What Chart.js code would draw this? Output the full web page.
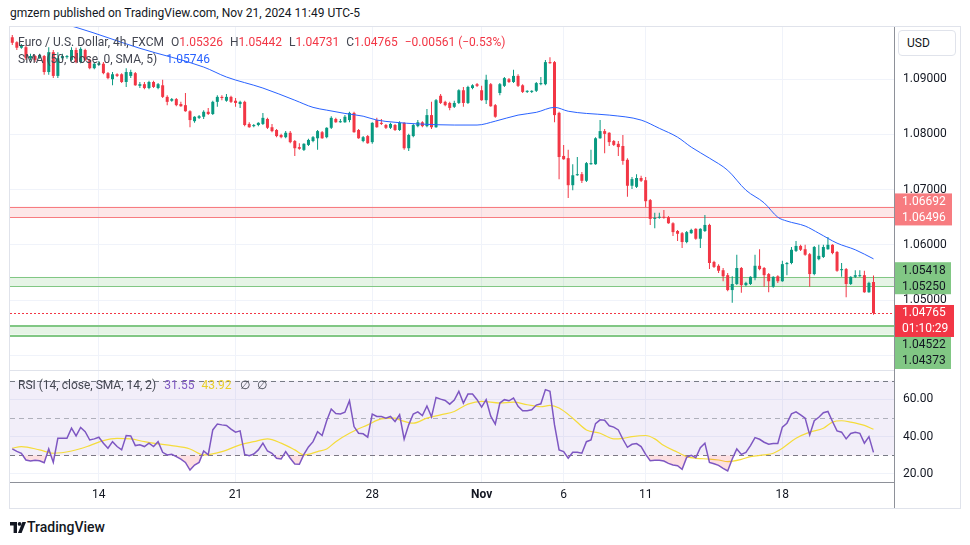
<!DOCTYPE html>
<html>
<head>
<title>EUR/USD 4h</title>
<style>
  body { margin:0; width:970px; height:545px; overflow:hidden; position:relative; background:#fff;
         font-family: Roboto, 'Noto Sans', sans-serif; color:#131722; }
  .abs { position:absolute; white-space:nowrap; }
  #pub { left:10px; top:5px; font-size:12px; line-height:16px; }
  #frame { left:9px; top:26px; width:952px; height:483px; border:1px solid #e0e3eb; box-sizing:border-box; }
  canvas { position:absolute; left:0; }
  .leg { font-size:12px; line-height:16px; color:#434651; }
  .dn { color:#f23645; }
  .gap { margin-left:7px; }
  #usd { left:898px; top:30px; width:58px; height:26px; border:1px solid #e0e3eb; border-radius:4px;
         box-sizing:border-box; font-size:12px; line-height:24px; padding-left:8px; background:#fff; }
  #foot { left:27px; top:518px; font-size:14px; font-weight:500; line-height:18px; }
</style>
</head>
<body>
<div id="pub" class="abs">gmzern published on TradingView.com, Nov 21, 2024 11:49 UTC-5</div>
<div id="frame" class="abs"></div>
<canvas id="priceChart" width="970" height="343" style="top:27px"></canvas>
<canvas id="rsiChart" width="970" height="138" style="top:370px"></canvas>

<div class="abs" style="left:10px;top:370px;width:884px;height:1px;background:#e0e3eb"></div>
<div class="abs" style="left:10px;top:482px;width:884px;height:1px;background:#8e9199"></div>
<div class="abs" style="left:894px;top:27px;width:1px;height:481px;background:#8e9199"></div>

<div id="leg1" class="abs leg" style="left:18px;top:34px"></div>
<div id="leg2" class="abs leg" style="left:18px;top:51px"></div>
<div id="leg3" class="abs leg" style="left:18px;top:377px"></div>
<div id="usd" class="abs">USD</div>

<svg class="abs" style="left:10px;top:522px" width="16" height="11" viewBox="0 0 16 11">
  <path d="M0 0H7V11H3.6V3.4H0Z" fill="#131722"/>
  <circle cx="9.6" cy="1.9" r="1.9" fill="#131722"/>
  <path d="M12.4 0H16L11.6 11H8Z" fill="#131722"/>
</svg>
<div id="foot" class="abs">TradingView</div>

<script src="https://cdn.jsdelivr.net/npm/chart.js"></script>
<script>
// 4h bars, Oct 10 -> Nov 21 2024 (EUR/USD, FXCM)
const open = [
1.0976,1.0967,1.0957,1.0958,1.0938,1.0942,1.0938,1.0942,1.0913,1.0949,
1.0906,1.0938,1.0940,1.0935,1.0953,1.0931,1.0953,1.0935,1.0920,1.0926,
1.0928,1.0911,1.0900,1.0909,1.0909,1.0895,1.0906,1.0911,1.0888,1.0891,
1.0884,1.0895,1.0884,1.0889,1.0868,1.0861,1.0864,1.0855,1.0853,1.0842,
1.0824,1.0830,1.0832,1.0841,1.0837,1.0859,1.0868,1.0861,1.0868,1.0861,
1.0855,1.0859,1.0819,1.0815,1.0817,1.0819,1.0828,1.0813,1.0808,1.0799,
1.0795,1.0803,1.0788,1.0777,1.0772,1.0781,1.0788,1.0793,1.0804,1.0795,
1.0812,1.0828,1.0822,1.0822,1.0826,1.0839,1.0808,1.0788,1.0797,1.0786,
1.0826,1.0821,1.0817,1.0812,1.0817,1.0808,1.0821,1.0775,1.0797,1.0815,
1.0822,1.0815,1.0835,1.0813,1.0870,1.0859,1.0857,1.0850,1.0857,1.0880,
1.0857,1.0884,1.0891,1.0880,1.0862,1.0891,1.0853,1.0875,1.0888,1.0900,
1.0895,1.0906,1.0889,1.0877,1.0877,1.0879,1.0891,1.0891,1.0931,1.0931,
1.0839,1.0761,1.0757,1.0708,1.0726,1.0728,1.0716,1.0746,1.0746,1.0793,
1.0806,1.0803,1.0788,1.0783,1.0779,1.0754,1.0707,1.0705,1.0721,1.0717,
1.0681,1.0647,1.0649,1.0650,1.0650,1.0639,1.0625,1.0621,1.0605,1.0621,
1.0629,1.0611,1.0625,1.0636,1.0569,1.0562,1.0554,1.0545,1.0518,1.0529,
1.0558,1.0527,1.0529,1.0540,1.0562,1.0558,1.0547,1.0524,1.0543,1.0534,
1.0565,1.0567,1.0589,1.0598,1.0592,1.0583,1.0547,1.0574,1.0578,1.0592,
1.0600,1.0587,1.0554,1.0556,1.0529,1.0542,1.0543,1.0545,1.0514,1.05326];
const high = [
1.0980,1.0969,1.0964,1.0962,1.0946,1.0944,1.0946,1.0944,1.0958,1.0953,
1.0949,1.0946,1.0944,1.0958,1.0957,1.0958,1.0955,1.0937,1.0931,1.0933,
1.0931,1.0913,1.0913,1.0911,1.0911,1.0920,1.0917,1.0913,1.0895,1.0895,
1.0897,1.0897,1.0893,1.0899,1.0871,1.0866,1.0866,1.0859,1.0875,1.0844,
1.0833,1.0835,1.0844,1.0848,1.0861,1.0871,1.0871,1.0873,1.0870,1.0866,
1.0861,1.0861,1.0822,1.0819,1.0822,1.0839,1.0830,1.0819,1.0810,1.0801,
1.0806,1.0806,1.0790,1.0784,1.0784,1.0792,1.0797,1.0808,1.0806,1.0813,
1.0833,1.0830,1.0828,1.0835,1.0841,1.0841,1.0810,1.0797,1.0799,1.0822,
1.0830,1.0828,1.0819,1.0821,1.0819,1.0824,1.0822,1.0801,1.0819,1.0826,
1.0824,1.0846,1.0859,1.0864,1.0873,1.0861,1.0859,1.0861,1.0882,1.0886,
1.0888,1.0891,1.0893,1.0888,1.0908,1.0893,1.0855,1.0893,1.0904,1.0902,
1.0917,1.0909,1.0891,1.0880,1.0880,1.0895,1.0904,1.0935,1.0940,1.0933,
1.0841,1.0781,1.0772,1.0746,1.0759,1.0732,1.0750,1.0772,1.0795,1.0826,
1.0810,1.0804,1.0790,1.0788,1.0799,1.0757,1.0723,1.0728,1.0725,1.0723,
1.0683,1.0658,1.0658,1.0663,1.0652,1.0641,1.0627,1.0623,1.0625,1.0629,
1.0630,1.0630,1.0654,1.0638,1.0571,1.0565,1.0558,1.0549,1.0543,1.0582,
1.0560,1.0533,1.0543,1.0582,1.0592,1.0560,1.0549,1.0543,1.0545,1.0571,
1.0569,1.0596,1.0607,1.0600,1.0600,1.0585,1.0598,1.0600,1.0600,1.0614,
1.0601,1.0589,1.0567,1.0558,1.0543,1.0554,1.0554,1.0553,1.0533,1.05442];
const low = [
1.0962,1.0953,1.0955,1.0935,1.0935,1.0931,1.0937,1.0908,1.0908,1.0902,
1.0902,1.0935,1.0937,1.0933,1.0929,1.0929,1.0933,1.0918,1.0918,1.0924,
1.0909,1.0900,1.0889,1.0904,1.0893,1.0886,1.0902,1.0888,1.0884,1.0882,
1.0882,1.0884,1.0882,1.0866,1.0853,1.0859,1.0851,1.0850,1.0841,1.0813,
1.0821,1.0828,1.0828,1.0835,1.0835,1.0850,1.0862,1.0859,1.0857,1.0850,
1.0848,1.0815,1.0812,1.0813,1.0815,1.0817,1.0810,1.0804,1.0795,1.0793,
1.0793,1.0784,1.0761,1.0772,1.0770,1.0779,1.0786,1.0772,1.0792,1.0793,
1.0810,1.0821,1.0821,1.0821,1.0822,1.0803,1.0792,1.0786,1.0783,1.0783,
1.0812,1.0817,1.0810,1.0810,1.0806,1.0806,1.0772,1.0770,1.0795,1.0813,
1.0813,1.0813,1.0810,1.0812,1.0855,1.0851,1.0844,1.0848,1.0855,1.0850,
1.0855,1.0882,1.0886,1.0861,1.0855,1.0850,1.0830,1.0871,1.0886,1.0893,
1.0893,1.0886,1.0875,1.0875,1.0875,1.0877,1.0889,1.0889,1.0928,1.0822,
1.0719,1.0754,1.0685,1.0699,1.0725,1.0712,1.0714,1.0745,1.0745,1.0792,
1.0766,1.0779,1.0779,1.0761,1.0745,1.0687,1.0701,1.0703,1.0714,1.0668,
1.0636,1.0630,1.0647,1.0647,1.0638,1.0616,1.0607,1.0594,1.0603,1.0620,
1.0609,1.0594,1.0623,1.0556,1.0558,1.0549,1.0534,1.0516,1.0495,1.0527,
1.0513,1.0525,1.0527,1.0536,1.0554,1.0524,1.0514,1.0522,1.0531,1.0533,
1.0545,1.0565,1.0587,1.0589,1.0580,1.0524,1.0545,1.0572,1.0576,1.0591,
1.0583,1.0551,1.0542,1.0505,1.0527,1.0540,1.0542,1.0513,1.0513,1.04731];
const close = [
1.0966,1.0957,1.0962,1.0938,1.0942,1.0935,1.0944,1.0913,1.0949,1.0906,
1.0938,1.0942,1.0942,1.0953,1.0931,1.0955,1.0935,1.0920,1.0928,1.0929,
1.0911,1.0902,1.0909,1.0906,1.0895,1.0913,1.0913,1.0889,1.0891,1.0884,
1.0895,1.0886,1.0891,1.0868,1.0859,1.0864,1.0853,1.0851,1.0842,1.0826,
1.0832,1.0833,1.0841,1.0837,1.0859,1.0868,1.0866,1.0868,1.0859,1.0857,
1.0859,1.0817,1.0813,1.0817,1.0821,1.0830,1.0812,1.0806,1.0797,1.0795,
1.0803,1.0786,1.0775,1.0774,1.0783,1.0790,1.0795,1.0806,1.0793,1.0812,
1.0830,1.0822,1.0824,1.0832,1.0839,1.0804,1.0793,1.0795,1.0784,1.0821,
1.0813,1.0819,1.0812,1.0819,1.0808,1.0821,1.0775,1.0799,1.0817,1.0822,
1.0815,1.0835,1.0813,1.0862,1.0857,1.0853,1.0848,1.0857,1.0880,1.0857,
1.0886,1.0889,1.0888,1.0862,1.0899,1.0851,1.0832,1.0891,1.0902,1.0895,
1.0906,1.0888,1.0877,1.0879,1.0879,1.0893,1.0893,1.0931,1.0929,1.0835,
1.0759,1.0755,1.0708,1.0726,1.0728,1.0716,1.0748,1.0748,1.0793,1.0806,
1.0801,1.0786,1.0781,1.0777,1.0752,1.0707,1.0719,1.0721,1.0716,1.0679,
1.0647,1.0649,1.0650,1.0649,1.0639,1.0623,1.0620,1.0605,1.0623,1.0627,
1.0611,1.0629,1.0636,1.0567,1.0560,1.0553,1.0543,1.0518,1.0529,1.0558,
1.0527,1.0531,1.0542,1.0562,1.0556,1.0545,1.0534,1.0542,1.0534,1.0565,
1.0567,1.0591,1.0598,1.0591,1.0582,1.0547,1.0596,1.0580,1.0596,1.0600,
1.0585,1.0553,1.0556,1.0529,1.0542,1.0545,1.0545,1.0514,1.0531,1.04765];

// SMA (50, close, 0, SMA, 5), read at these bars
const smaIdx = [10,14,28,42,47,55,62,66,69,73,77,80,84,89,97,102,106,111,115,119,
                122,126,131,138,142,146,149,153,157,161,165,168,170,174,177,181,185,189];
const smaVal = [1.1003,1.0994,1.0956,1.0922,1.0904,1.0884,1.0862,1.0849,1.0844,1.0838,
                1.0833,1.0826,1.0822,1.0819,1.0817,1.0817,1.0824,1.0835,1.0840,1.0849,
                1.0842,1.0838,1.0835,1.0826,1.0811,1.0795,1.0777,1.0757,1.0735,1.0699,
                1.0676,1.0650,1.0643,1.0634,1.0621,1.0603,1.0591,1.05746];

// RSI (14)
const rsi = [
33.4,32.1,31.1,27.5,26.9,27.3,27.1,26.0,33.4,26.2,
39.1,39.1,39.1,44.5,40.4,44.9,42.7,38.2,38.8,39.7,
36.5,33.8,37.3,34.7,32.9,40.6,40.4,35.2,35.6,34.7,
36.5,34.7,37.3,31.6,30.2,30.5,29.3,28.0,26.2,22.1,
24.8,26.2,32.3,30.2,43.6,46.7,46.3,46.0,44.0,42.4,
43.1,30.5,29.8,30.7,32.9,36.5,32.3,31.1,28.4,28.0,
32.0,28.4,25.3,25.2,30.5,34.5,37.3,42.7,40.6,48.5,
54.8,52.4,52.1,53.1,59.2,45.4,41.8,41.5,39.7,52.1,
50.8,50.8,49.9,50.8,48.1,51.7,38.6,46.3,52.1,53.3,
51.3,56.4,50.6,61.0,60.1,59.4,57.4,59.6,64.3,58.0,
62.8,62.8,59.8,55.8,59.8,51.0,46.7,58.0,59.8,59.2,
60.7,56.2,53.9,53.9,54.4,56.9,57.6,65.2,64.3,46.3,
32.9,32.0,28.4,31.6,31.6,31.1,37.3,38.2,47.0,49.0,
48.8,45.8,45.1,43.6,38.6,34.3,35.9,36.3,34.7,30.5,
27.1,27.3,27.3,26.9,25.7,24.8,24.4,22.5,28.9,30.0,
28.7,34.1,36.5,26.2,25.5,24.6,23.0,21.6,28.0,33.4,
30.5,31.6,35.2,39.5,38.6,37.0,35.9,36.3,36.3,45.1,
47.2,52.2,53.3,51.7,49.9,40.9,48.5,50.4,52.8,53.5,
48.1,43.1,42.4,38.8,41.7,42.4,41.8,36.5,40.0,31.55];

// RSI-based SMA (14), read at these bars
const rsiMaIdx = [0,2,6,9,13,17,20,23,26,29,32,35,39,42,46,50,53,56,59,62,
                  64,67,69,71,74,78,81,84,85,88,91,94,97,100,103,107,110,113,116,118,
                  120,123,126,129,132,134,136,139,141,143,146,148,150,153,155,157,160,162,165,167,
                  169,172,175,178,180,182,184,187,189];
const rsiMaVal = [33.8,34.7,32.9,31.1,32.3,35.2,37.9,39.1,38.8,37.3,36.1,35.2,33.4,30.2,32.0,35.6,37.3,38.8,36.5,32.9,
                  30.2,32.0,33.4,37.3,41.8,46.3,49.5,49.9,49.0,47.2,49.9,51.7,53.5,57.4,58.9,58.0,58.5,57.1,56.0,56.7,
                  55.3,49.9,43.6,41.8,38.8,39.1,40.0,40.6,38.8,35.2,31.6,29.3,28.4,28.0,27.5,26.6,27.8,29.3,30.2,31.1,
                  33.8,39.1,42.4,44.5,47.8,48.5,47.8,46.0,43.92];

const tickIdx  = [19, 49, 79, 103, 121, 139, 169];
const tickText = ['14', '21', '28', 'Nov', '6', '11', '18'];
const priceTicks = [1.04, 1.05, 1.06, 1.07, 1.08, 1.09];
const rsiTicks = [20, 40, 60];
const rsiLevels = [70, 50, 30];

const redZone = [1.06692, 1.06496];
const greenZone = [1.05418, 1.05250];
const lowZone = [1.04522, 1.04373, 1.04348];
const lastPrice = 1.04765;
const countdown = '01:10:29';

const SLOTS = 194;                       // bars + empty space on the right
const categories = Array.from({length: SLOTS}, (_, i) => i);
const priceMin = 1.03732, priceMax = 1.09946;
const rsiMin = 15.7, rsiMax = 75.7;

const UP = '#089981', DOWN = '#f23645';
const FONT = "Roboto, 'Noto Sans', sans-serif";
Chart.defaults.font.family = FONT;
Chart.defaults.font.size = 12;
Chart.defaults.color = '#131722';

const candleColors = close.map((c, i) => c >= open[i] ? UP : DOWN);
const smaLine = categories.map(() => null);
smaIdx.forEach((ix, k) => { smaLine[ix] = smaVal[k]; });
const rsiMaLine = categories.map(() => null);
rsiMaIdx.forEach((ix, k) => { rsiMaLine[ix] = rsiMaVal[k]; });

// legends
const L = close.length - 1;
const f5 = v => v.toFixed(5);
const chg = close[L] - open[L];
const col = chg < 0 ? 'dn' : '';
const sign = v => (v < 0 ? '\u2212' : '+');
document.getElementById('leg1').innerHTML =
  'Euro / U.S. Dollar, 4h, FXCM' +
  `<span class="gap">O</span><span class="${col}">${f5(open[L])}</span>` +
  `<span class="gap">H</span><span class="${col}">${f5(high[L])}</span>` +
  `<span class="gap">L</span><span class="${col}">${f5(low[L])}</span>` +
  `<span class="gap">C</span><span class="${col}">${f5(close[L])}</span>` +
  `<span class="gap ${col}">${sign(chg)}${Math.abs(chg).toFixed(5)} (${sign(chg)}${Math.abs(chg / open[L] * 100).toFixed(2)}%)</span>`;
document.getElementById('leg2').innerHTML =
  `SMA (50, close, 0, SMA, 5)<span style="margin-left:9px;color:#2962ff">${f5(smaVal[smaVal.length - 1])}</span>`;
document.getElementById('leg3').innerHTML =
  `RSI (14, close, SMA, 14, 2)<span style="margin-left:8px;color:#7e57c2">${rsi[L].toFixed(2)}</span>` +
  `<span style="margin-left:7px;color:#e9cf2b">${rsiMaVal[rsiMaVal.length - 1].toFixed(2)}</span>` +
  `<span style="margin-left:8px">\u2205</span><span style="margin-left:7px">\u2205</span>`;

function hline(ctx, a, py, color, width, dash) {
  ctx.save();
  ctx.strokeStyle = color;
  ctx.lineWidth = width;
  ctx.setLineDash(dash || []);
  const y = width % 2 ? Math.round(py) + 0.5 : Math.round(py);
  ctx.beginPath(); ctx.moveTo(a.left, y); ctx.lineTo(a.right, y); ctx.stroke();
  ctx.restore();
}

const zonePlugin = {
  id: 'zones',
  beforeDatasetsDraw(chart) {
    const {ctx, chartArea: a, scales: {y}} = chart;
    const band = (top, bot, fill) => {
      const t = y.getPixelForValue(top), b = y.getPixelForValue(bot);
      ctx.fillStyle = fill;
      ctx.fillRect(a.left, t, a.right - a.left, b - t);
    };
    band(redZone[0], redZone[1], 'rgba(242,54,69,0.12)');
    hline(ctx, a, y.getPixelForValue(redZone[0]), '#f77c80', 1);
    hline(ctx, a, y.getPixelForValue(redZone[1]), '#f77c80', 1);
    band(greenZone[0], greenZone[1], 'rgba(76,175,80,0.14)');
    hline(ctx, a, y.getPixelForValue(greenZone[0]), '#81c784', 1);
    hline(ctx, a, y.getPixelForValue(greenZone[1]), '#81c784', 1);
    band(lowZone[0], lowZone[1], 'rgba(76,175,80,0.14)');
    hline(ctx, a, y.getPixelForValue(lowZone[0]), '#81c784', 2);
    hline(ctx, a, y.getPixelForValue(lowZone[1]), '#81c784', 1);
    hline(ctx, a, y.getPixelForValue(lowZone[2]), '#81c784', 1);
  },
  afterDatasetsDraw(chart) {
    const {ctx, chartArea: a, scales: {y}} = chart;
    hline(ctx, a, y.getPixelForValue(lastPrice), DOWN, 1, [2, 2]);
  },
  afterDraw(chart) {
    const {ctx, chartArea: a, scales: {y}} = chart;
    const h = 16;
    const groups = [
      {rows: redZone.map(f5), vals: redZone, anchor: 1, bg: '#f77c80', fg: '#ffffff', w: 58},
      {rows: greenZone.map(f5), vals: greenZone, anchor: 1, bg: '#81c784', fg: '#131722', w: 57},
      {rows: [f5(lastPrice), countdown], vals: [lastPrice], anchor: 0, bg: DOWN, fg: '#ffffff', w: 60},
      {rows: lowZone.slice(0, 2).map(f5), vals: lowZone, anchor: 1, bg: '#81c784', fg: '#131722', w: 57}
    ];
    let lastBottom = -Infinity;
    ctx.save();
    ctx.font = '12px ' + FONT;
    ctx.textBaseline = 'middle';
    groups.forEach(g => {
      let top = y.getPixelForValue(g.vals[g.anchor]) - g.anchor * h - h / 2;
      if (top < lastBottom) top = lastBottom;
      ctx.fillStyle = g.bg;
      ctx.fillRect(a.right, top, g.w, h * g.rows.length);
      ctx.fillStyle = g.fg;
      g.rows.forEach((t, k) => ctx.fillText(t, a.right + 8, top + h * k + h / 2 + 0.5));
      lastBottom = top + h * g.rows.length;
    });
    ctx.restore();
  }
};

const rsiBandPlugin = {
  id: 'rsiBand',
  beforeDatasetsDraw(chart) {
    const {ctx, chartArea: a, scales: {y}} = chart;
    const t = y.getPixelForValue(rsiLevels[0]), b = y.getPixelForValue(rsiLevels[2]);
    ctx.fillStyle = 'rgba(126,87,194,0.1)';
    ctx.fillRect(a.left, t, a.right - a.left, b - t);
    rsiLevels.forEach((v, k) => {
      hline(ctx, a, y.getPixelForValue(v), k === 1 ? 'rgba(120,123,134,0.55)' : '#787b86', 1, [5, 4]);
    });
  }
};

// drop the label overhang padding Chart.js adds, so the plot fills the pane
const noOverhang = s => { s.paddingTop = 0; s.paddingBottom = 0; s.paddingLeft = 0; s.paddingRight = 0; };

const timeAxis = (showLabels) => ({
  type: 'category',
  offset: true,
  afterBuildTicks: s => { s.ticks = tickIdx.map(v => ({value: v})); },
  afterFit: s => { s.height = showLabels ? 26 : 0; noOverhang(s); },
  grid: {color: '#f0f3fa', offset: false, drawTicks: false},
  border: {display: false},
  ticks: {
    display: showLabels,
    autoSkip: false,
    maxRotation: 0,
    padding: 6,
    color: '#131722',
    font: c => ({size: 12, weight: tickText[tickIdx.indexOf(c.tick && c.tick.value)] === 'Nov' ? 'bold' : 'normal'}),
    callback: v => tickText[tickIdx.indexOf(v)]
  }
});

const valueAxis = (min, max, ticks, digits) => ({
  position: 'right',
  min: min,
  max: max,
  afterBuildTicks: s => { s.ticks = ticks.map(v => ({value: v})); },
  afterFit: s => { s.width = 66; noOverhang(s); },
  grid: {color: '#f0f3fa', drawTicks: false},
  border: {display: false},
  ticks: {padding: 9, color: '#131722', callback: v => v.toFixed(digits)}
});

new Chart(document.getElementById('priceChart'), {
  type: 'bar',
  data: {
    labels: categories,
    datasets: [
      {type: 'line', data: smaLine, borderColor: '#2962ff', borderWidth: 1, pointRadius: 0,
       spanGaps: true, cubicInterpolationMode: 'monotone'},
      {data: open.map((o, i) => [o, close[i]]), backgroundColor: candleColors,
       barThickness: 3, minBarLength: 1, grouped: false, inflateAmount: 0},
      {data: low.map((l, i) => [l, high[i]]), backgroundColor: candleColors,
       barThickness: 1, grouped: false, inflateAmount: 0}
    ]
  },
  options: {
    responsive: false,
    devicePixelRatio: 1,
    animation: false,
    events: [],
    layout: {autoPadding: false, padding: {left: 10, right: 10, top: 0, bottom: 0}},
    plugins: {legend: {display: false}, tooltip: {enabled: false}},
    scales: {x: timeAxis(false), y: valueAxis(priceMin, priceMax, priceTicks, 5)}
  },
  plugins: [zonePlugin]
});

new Chart(document.getElementById('rsiChart'), {
  type: 'line',
  data: {
    labels: categories,
    datasets: [
      {data: rsi, borderColor: '#7e57c2', borderWidth: 1.5, pointRadius: 0,
       fill: {target: {value: rsiLevels[2]}, above: 'rgba(0,0,0,0)', below: 'rgba(242,54,69,0.16)'}},
      {data: rsiMaLine, borderColor: '#f5dc3b', borderWidth: 1.2, pointRadius: 0,
       spanGaps: true, cubicInterpolationMode: 'monotone'}
    ]
  },
  options: {
    responsive: false,
    devicePixelRatio: 1,
    animation: false,
    events: [],
    layout: {autoPadding: false, padding: {left: 10, right: 10, top: 0, bottom: 0}},
    plugins: {legend: {display: false}, tooltip: {enabled: false}},
    scales: {x: timeAxis(true), y: valueAxis(rsiMin, rsiMax, rsiTicks, 2)}
  },
  plugins: [rsiBandPlugin]
});
</script>
</body>
</html>
